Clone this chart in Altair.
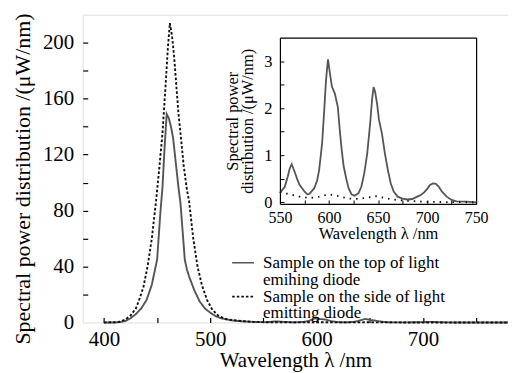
import altair as alt
import pandas as pd

FONT = "Liberation Serif"
TOP = "Sample on the top of light"
TOP2 = "\u00a0\u00a0emihing diode"
SIDE = "Sample on the side of light"
SIDE2 = "\u00a0\u00a0emitting diode"
LEGEND_ROWS = [TOP, TOP2, SIDE, SIDE2]

# ---- main panel, blue peak region ----
top_wl = [400, 410, 415, 420, 425, 430, 435, 440, 445, 450, 453, 455, 457, 459, 461, 463,
          465, 467, 470, 472, 476, 478, 480, 485, 490, 495, 500, 505, 510, 520, 530, 540]
top_val = [0, 0, 0.3, 1, 3, 6, 10, 16, 27, 45, 78, 96, 125, 149, 146, 140,
           132, 118, 97, 85, 45, 38, 33, 23, 15, 10, 7, 4.5, 3, 1.5, 0.8, 0.4]

side_wl = [400, 410, 415, 420, 425, 430, 433, 437, 441, 445, 449, 452, 455, 458, 460, 462,
           464, 466, 468, 470, 472, 475, 478, 480, 484, 488, 492, 497, 502, 508, 515, 520, 530, 540]
side_val = [0, 0.2, 0.5, 2, 5, 10, 16, 25, 40, 60, 87, 110, 135, 170, 195, 214,
            205, 190, 170, 150, 135, 112, 95, 87, 60, 40, 27, 16, 9, 4.5, 2.5, 1.8, 1, 0.5]

# ---- inset, 550-750 nm ----
in_top_wl = [550, 555, 558, 560, 562, 565, 568, 570, 575, 578, 580, 585, 588, 590, 593, 595,
             597, 599, 601, 603, 606, 609, 611, 613, 615, 618, 620, 623, 626, 630, 633, 636,
             639, 642, 644, 645.5, 647, 649, 651, 654, 657, 660, 663, 666, 670, 675, 680, 685,
             690, 694, 697, 700, 703, 706, 709, 712, 715, 720, 725, 730, 740, 750]
in_top_val = [0.2, 0.33, 0.55, 0.72, 0.81, 0.65, 0.47, 0.37, 0.23, 0.17, 0.18, 0.3, 0.47, 0.69, 1.25, 1.9,
              2.6, 3.04, 2.74, 2.46, 2.31, 2.03, 1.54, 1.11, 0.76, 0.47, 0.3, 0.17, 0.14, 0.19, 0.33, 0.62,
              1.04, 1.68, 2.2, 2.45, 2.35, 2.1, 1.75, 1.46, 1.04, 0.69, 0.4, 0.23, 0.12, 0.08, 0.06, 0.07,
              0.12, 0.16, 0.21, 0.28, 0.37, 0.4, 0.39, 0.33, 0.23, 0.12, 0.05, 0.02, 0.015, 0]
in_side_wl = [550, 560, 570, 580, 590, 600, 610, 620, 630, 640, 648, 655, 665, 680, 700, 720, 750]
in_side_val = [0.22, 0.17, 0.12, 0.09, 0.12, 0.17, 0.13, 0.08, 0.07, 0.1, 0.13, 0.1, 0.06, 0.03, 0.01, 0.005, 0]

tail_wl = [760, 780]
tail_val = [0, 0]

rows = []
for w, v in zip(top_wl + in_top_wl + tail_wl, top_val + in_top_val + tail_val):
    rows.append({"wl": w, "val": v, "series": TOP})
for w, v in zip(side_wl + in_side_wl + tail_wl, side_val + in_side_val + tail_val):
    rows.append({"wl": w, "val": v, "series": SIDE})
df_main = pd.DataFrame(rows)

df_in_top = pd.DataFrame({"wl": in_top_wl, "val": in_top_val})
df_in_side = pd.DataFrame({"wl": in_side_wl, "val": in_side_val})

W, H = 427, 309
xs_main = alt.Scale(domain=[380, 780], nice=False, zero=False)
ys_main = alt.Scale(domain=[0, 220], nice=False, zero=False)
IN_X0, IN_X1, IN_Y0, IN_Y1 = 198, 395, 190, 23
xs_in = alt.Scale(domain=[550, 750], range=[IN_X0, IN_X1], nice=False, zero=False)
ys_in = alt.Scale(domain=[-0.035, 3.5], range=[IN_Y0, IN_Y1], nice=False, zero=False)

leg = alt.Legend(
    title=None, orient="none", legendX=149, legendY=242, padding=0,
    labelFont=FONT, labelFontSize=17, labelColor="black",
    symbolType="stroke", symbolSize=480, symbolStrokeWidth=1.6,
    labelOffset=8, rowPadding=0, clipHeight=14, labelBaseline="middle", labelLimit=400,
)

main = alt.Chart(df_main).mark_line(strokeWidth=1.9).encode(
    x=alt.X("wl:Q", scale=xs_main, axis=alt.Axis(
        orient="bottom", values=[400, 500, 600, 700], title="Wavelength λ /nm",
        ticks=False, domain=False, grid=False, labelFont=FONT, labelFontSize=21,
        labelColor="black", labelPadding=6, labelFlush=False, titleFont=FONT, titleFontSize=21,
        titleFontWeight="normal", titleColor="black", titleBaseline="alphabetic", titleY=44)),
    y=alt.Y("val:Q", scale=ys_main, axis=alt.Axis(
        orient="left", values=[0, 40, 80, 120, 160, 200],
        title="Spectral power distribution /(μW/nm)",
        ticks=False, domain=False, grid=False, labelFont=FONT, labelFontSize=21,
        labelColor="black", labelPadding=9, labelFlush=False, titleFont=FONT, titleFontSize=22,
        titleFontWeight="normal", titleColor="black", titleBaseline="alphabetic",
        titleX=-53, titleY=164.5)),
    color=alt.Color("series:N", scale=alt.Scale(
        domain=LEGEND_ROWS, range=["#555555", "transparent", "#111111", "transparent"]),
        legend=leg),
    strokeDash=alt.StrokeDash("series:N", scale=alt.Scale(
        domain=LEGEND_ROWS, range=[[1, 0], [1, 0], [2.6, 2], [1, 0]]),
        legend=leg),
)

main_ticks = alt.Chart(df_main).mark_line(opacity=0).encode(
    x=alt.X("wl:Q", scale=xs_main, axis=alt.Axis(
        orient="bottom", offset=-5, values=[400, 450, 500, 550, 600, 650, 700, 750],
        tickSize=5, tickColor="black", tickWidth=1.2, labels=False, domain=False,
        grid=False, title=None)),
    y=alt.Y("val:Q", scale=ys_main, axis=alt.Axis(
        orient="left", offset=-5, values=list(range(20, 220, 20)),
        tickSize=5, tickColor="black", tickWidth=1.2, labels=False, domain=False,
        grid=False, title=None)),
)

inset_top = alt.Chart(df_in_top).mark_line(strokeWidth=1.8, color="#555555").encode(
    x=alt.X("wl:Q", scale=xs_in, axis=alt.Axis(
        orient="bottom", offset=-(H - IN_Y0), values=[550, 600, 650, 700, 750],
        title="Wavelength λ /nm", ticks=False, domain=True, domainColor="black",
        domainWidth=1.2, grid=False, labelFont=FONT, labelFontSize=16,
        labelColor="black", labelPadding=6, labelFlush=False, titleFont=FONT, titleFontSize=16.5,
        titleFontWeight="normal", titleColor="black", titleBaseline="alphabetic", titleY=35)),
    y=alt.Y("val:Q", scale=ys_in, axis=alt.Axis(
        orient="left", offset=-IN_X0, values=[0, 1, 2, 3],
        title=["Spectral power", "distribution /(μW/nm)"], ticks=False, domain=True,
        domainColor="black", domainWidth=1.2, grid=False, labelFont=FONT,
        labelFontSize=16.5, labelColor="black", labelPadding=8, labelFlush=False, titleFont=FONT,
        titleFontSize=16.5, titleFontWeight="normal", titleColor="black",
        titlePadding=8, titleLineHeight=15)),
)

inset_side = alt.Chart(df_in_side).mark_line(strokeWidth=1.8, color="#111111",
                                              strokeDash=[1.5, 5]).encode(
    x=alt.X("wl:Q", scale=xs_in, axis=None),
    y=alt.Y("val:Q", scale=ys_in, axis=None),
)

inset_ticks = alt.Chart(df_in_top).mark_line(opacity=0).encode(
    x=alt.X("wl:Q", scale=xs_in, axis=alt.Axis(
        orient="bottom", offset=-(H - IN_Y0) - 4, values=[575, 600, 625, 650, 675, 700, 725],
        tickSize=4, tickColor="black", tickWidth=1, labels=False, domain=False,
        grid=False, title=None)),
    y=alt.Y("val:Q", scale=ys_in, axis=alt.Axis(
        orient="left", offset=-IN_X0 - 4, values=[0, 0.5, 1, 1.5, 2, 2.5, 3],
        tickSize=4, tickColor="black", tickWidth=1, labels=False, domain=False,
        grid=False, title=None)),
)

inset_frame = alt.Chart(df_in_top).mark_line(opacity=0).encode(
    x=alt.X("wl:Q", scale=xs_in, axis=alt.Axis(
        orient="top", offset=-IN_Y1, ticks=False, labels=False, domain=True,
        domainColor="black", domainWidth=1.2, grid=False, title=None)),
    y=alt.Y("val:Q", scale=ys_in, axis=alt.Axis(
        orient="right", offset=-(W - IN_X1), ticks=False, labels=False, domain=True,
        domainColor="black", domainWidth=1.2, grid=False, title=None)),
)

chart = alt.layer(
    main, main_ticks, inset_top, inset_side, inset_ticks, inset_frame
).resolve_scale(
    x="independent", y="independent"
).properties(
    width=W, height=H,
    autosize=alt.AutoSizeParams(type="none"),
    padding={"left": 75, "top": 6, "right": 0, "bottom": 52},
).configure_view(
    stroke="black", strokeWidth=1.5
).configure(background="white")

chart.save("out.html", embed_options={"renderer": "svg", "actions": False})
